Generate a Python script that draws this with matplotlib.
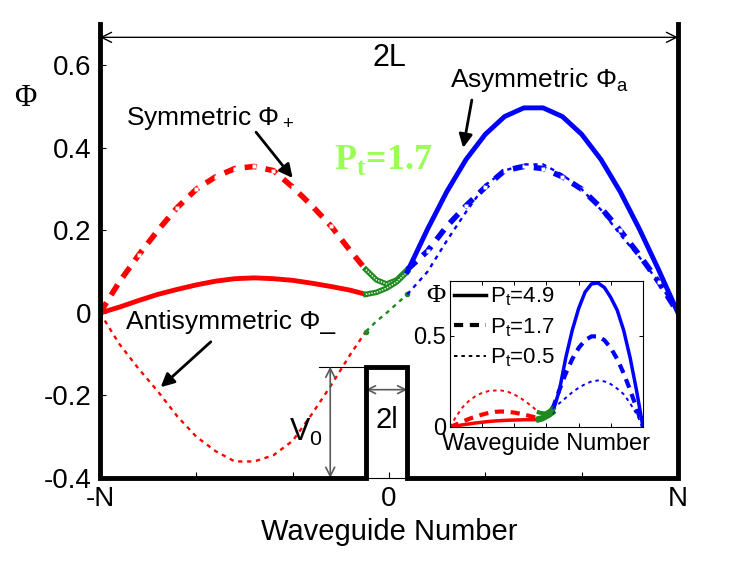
import matplotlib
matplotlib.use("Agg")
from matplotlib import pyplot as plt
import numpy as np

plt.rcParams['font.family'] = ['Liberation Sans', 'DejaVu Sans']
plt.rcParams['mathtext.fontset'] = 'custom'
plt.rcParams['mathtext.rm'] = 'Liberation Sans'
plt.rcParams['mathtext.it'] = 'Liberation Sans'
plt.rcParams['mathtext.bf'] = 'Liberation Serif:bold'

# waveguide positions (N = 30), left well / barrier / right well
xl = [-30, -28, -26, -24, -22, -20, -18, -16, -14, -12, -10, -8, -6, -4, -2.4]
xb = [-2.4, -1.3, -0.25, 0.8, 1.9]
xr = [1.9, 4, 6, 8, 10, 12, 14, 16, 18, 20, 22, 24, 26, 28, 30]

# main plot, Pt = 1.7
sym_l = [0, 0.075, 0.14, 0.2, 0.255, 0.3, 0.33, 0.35, 0.355, 0.345, 0.305, 0.26, 0.21, 0.15, 0.105]
sym_b = [0.105, 0.08, 0.07, 0.08, 0.105]
sym_r = [0.105, 0.15, 0.21, 0.26, 0.305, 0.345, 0.355, 0.35, 0.33, 0.3, 0.255, 0.2, 0.14, 0.075, 0]

anti_l = [0, -0.075, -0.135, -0.19, -0.25, -0.3, -0.335, -0.36, -0.36, -0.345, -0.31, -0.245, -0.175, -0.1, -0.045]
anti_b = [-0.045, -0.02, 0.0, 0.022, 0.045]
anti_r = [0.045, 0.1, 0.175, 0.245, 0.31, 0.345, 0.36, 0.36, 0.335, 0.3, 0.25, 0.19, 0.135, 0.075, 0]

asym_l = [0, 0.014, 0.03, 0.045, 0.057, 0.068, 0.077, 0.083, 0.085, 0.083, 0.079, 0.072, 0.064, 0.055, 0.045]
asym_b = [0.045, 0.05, 0.06, 0.075, 0.1]
asym_r = [0.1, 0.203, 0.294, 0.372, 0.433, 0.476, 0.497, 0.497, 0.476, 0.433, 0.372, 0.294, 0.203, 0.104, 0]

# inset, asymmetric state for other powers
p49_l = [0, 0.006, 0.012, 0.017, 0.022, 0.026, 0.03, 0.033, 0.035, 0.037, 0.038, 0.039, 0.04, 0.04, 0.04]
p49_b = [0.04, 0.045, 0.055, 0.065, 0.08]
p49_r = [0.08, 0.2, 0.38, 0.53, 0.65, 0.74, 0.785, 0.79, 0.765, 0.71, 0.64, 0.53, 0.38, 0.2, 0]

p05_l = [0, 0.06, 0.11, 0.145, 0.17, 0.187, 0.197, 0.2, 0.2, 0.193, 0.178, 0.158, 0.133, 0.105, 0.08]
p05_b = [0.08, 0.075, 0.075, 0.085, 0.1]
p05_r = [0.1, 0.13, 0.16, 0.19, 0.215, 0.235, 0.25, 0.255, 0.25, 0.235, 0.21, 0.18, 0.13, 0.07, 0]

N = 30
V0 = -0.13
bl, br = -2.4, 1.9
green = '#1f8a1f'
dot = (0, (1.8, 2.0))
dash = (0, (2.2, 1.6))

fig = plt.figure(figsize=(7.48, 5.61), dpi=100)
ax = fig.add_axes([0.1337, 0.148, 0.7727, 0.809])

# symmetric (dashed)
ax.plot(xl, sym_l, color='red', lw=4, ls=dash)
ax.plot(xl[1:-1], sym_l[1:-1], 's', ms=2.5, mfc='white', mec='none')
ax.plot(xb, sym_b, color=green, lw=4)
ax.plot(xb, sym_b, color='white', lw=1, ls=(0, (1, 1)))
ax.plot(xr, sym_r, color='blue', lw=4, ls=dash)
ax.plot(xr[1:-1], sym_r[1:-1], 's', ms=2.5, mfc='white', mec='none')

# antisymmetric (dotted)
ax.plot(xl, anti_l, color='red', lw=1.7, ls=dot)
ax.plot(xb, anti_b, color=green, lw=1.7, ls=dot)
ax.plot([xb[0], xb[-1]], [anti_b[0], anti_b[-1]], 'o', color=green, ms=3)
ax.plot(xr, anti_r, color='blue', lw=1.7, ls=dot)

# asymmetric (solid)
ax.plot(xl, asym_l, color='red', lw=3.5)
ax.plot(xb, asym_b, color=green, lw=4)
ax.plot(xb, asym_b, color='white', lw=1, ls=(0, (1, 1)))
ax.plot(xr, asym_r, color='blue', lw=3.5)

# potential: walls and barrier
wx = [-N, -N, bl, bl, br, br, N, N]
wy = [0.7, -0.4, -0.4, V0, V0, -0.4, -0.4, 0.7]
ax.plot(wx, wy, color='k', lw=3.5, clip_on=False, solid_joinstyle='miter', zorder=5)

ax.set_xlim(-N, N)
ax.set_ylim(-0.4, 0.7)
ax.set_xticks([-30, -20, -10, 0, 10, 20, 30])
ax.set_xticklabels(['-N', '', '', '0', '', '', 'N'])
ax.set_yticks([-0.4, -0.2, 0, 0.2, 0.4, 0.6])
ax.set_yticklabels(['-0.4', '-0.2', '0', '0.2', '0.4', '0.6'])
ax.tick_params(direction='in', length=4, width=0.8, labelsize=20, pad=6)
ax.spines['top'].set_visible(False)
ax.spines['right'].set_visible(False)
ax.set_xlabel('Waveguide Number', fontsize=21, labelpad=4)
fig.text(0.034, 0.825, 'Φ', family='Liberation Serif', fontsize=22, ha='center', va='center')

# 2L arrow
ax.annotate('', xy=(N, 0.668), xytext=(-N, 0.668),
            arrowprops=dict(arrowstyle='<->', color='k', lw=1, mutation_scale=18, shrinkA=0, shrinkB=0))
ax.text(0, 0.617, '2L', fontsize=22, ha='center', va='center')

# V0 and 2l marks
ax.plot([-7.3, bl], [V0, V0], color='k', lw=0.8)
ax.annotate('', xy=(-6.1, -0.4), xytext=(-6.1, V0),
            arrowprops=dict(arrowstyle='<->', color='0.35', lw=1.2, mutation_scale=16, shrinkA=0, shrinkB=0))
ax.text(-8.6, -0.29, 'V$_0$', fontsize=22, ha='center', va='center')
ax.annotate('', xy=(br, -0.186), xytext=(bl, -0.186),
            arrowprops=dict(arrowstyle='<->', color='0.35', lw=1.2, mutation_scale=14, shrinkA=0, shrinkB=0))
ax.text(-0.2, -0.26, '2l', fontsize=21, ha='center', va='center')

# labels with arrows
ax.text(-27.3, 0.472, 'Symmetric Φ$_+$', fontsize=19, ha='left', va='center')
ax.annotate('', xy=(-10.0, 0.327), xytext=(-13.8, 0.438),
            arrowprops=dict(arrowstyle='-|>', color='k', lw=2, mutation_scale=20, shrinkA=0, shrinkB=0))
ax.text(6.3, 0.564, 'Asymmetric Φ$_a$', fontsize=19, ha='left', va='center')
ax.annotate('', xy=(7.7, 0.40), xytext=(8.6, 0.516),
            arrowprops=dict(arrowstyle='-|>', color='k', lw=2, mutation_scale=20, shrinkA=0, shrinkB=0))
ax.text(-27.3, -0.022, 'Antisymmetric Φ_', fontsize=19, ha='left', va='center')
ax.annotate('', xy=(-23.7, -0.18), xytext=(-18.5, -0.07),
            arrowprops=dict(arrowstyle='-|>', color='k', lw=2, mutation_scale=20, shrinkA=0, shrinkB=0))
ax.text(-0.6, 0.37, r'P$_\mathbf{t}$=1.7', family='Liberation Serif', fontweight='bold',
        fontsize=26, color='#99ff55', ha='center', va='center')

# inset
ax2 = fig.add_axes([0.6016, 0.2389, 0.258, 0.260])
ax2.plot(xl, p49_l, color='red', lw=2.5)
ax2.plot(xb, p49_b, color=green, lw=4)
ax2.plot(xr, p49_r, color='blue', lw=2.5)
ax2.plot(xl, asym_l, color='red', lw=3, ls=dash)
ax2.plot(xb, asym_b, color=green, lw=4)
ax2.plot(xr, asym_r, color='blue', lw=3, ls=dash)
ax2.plot(xl, p05_l, color='red', lw=1.4, ls=dot)
ax2.plot(xb, p05_b, color=green, lw=3)
ax2.plot(xr, p05_r, color='blue', lw=1.4, ls=dot)

h1, = ax2.plot([], [], color='k', lw=2.5)
h2, = ax2.plot([], [], color='k', lw=3, ls=dash)
h3, = ax2.plot([], [], color='k', lw=1.4, ls=dot)
ax2.legend([h1, h2, h3], ['P$_t$=4.9', 'P$_t$=1.7', 'P$_t$=0.5'], loc='upper left', frameon=False,
           fontsize=16, handlelength=1.4, handletextpad=0.2, labelspacing=0.35,
           borderpad=0.05, borderaxespad=0.15)

ax2.set_xlim(-N, N)
ax2.set_ylim(0, 0.8)
ax2.set_xticks([-20, -10, 0, 10, 20])
ax2.set_xticklabels([])
ax2.set_yticks([0, 0.5])
ax2.set_yticklabels(['0', '0.5'])
ax2.tick_params(direction='in', length=3, width=0.7, labelsize=17, pad=3, top=True, right=True)
for s in ax2.spines.values():
    s.set_linewidth(0.8)
ax2.set_xlabel('Waveguide Number', fontsize=17, labelpad=1)
fig.text(0.583, 0.472, 'Φ', family='Liberation Serif', fontsize=19, ha='center', va='center')

fig.savefig('out.png', dpi=100)
